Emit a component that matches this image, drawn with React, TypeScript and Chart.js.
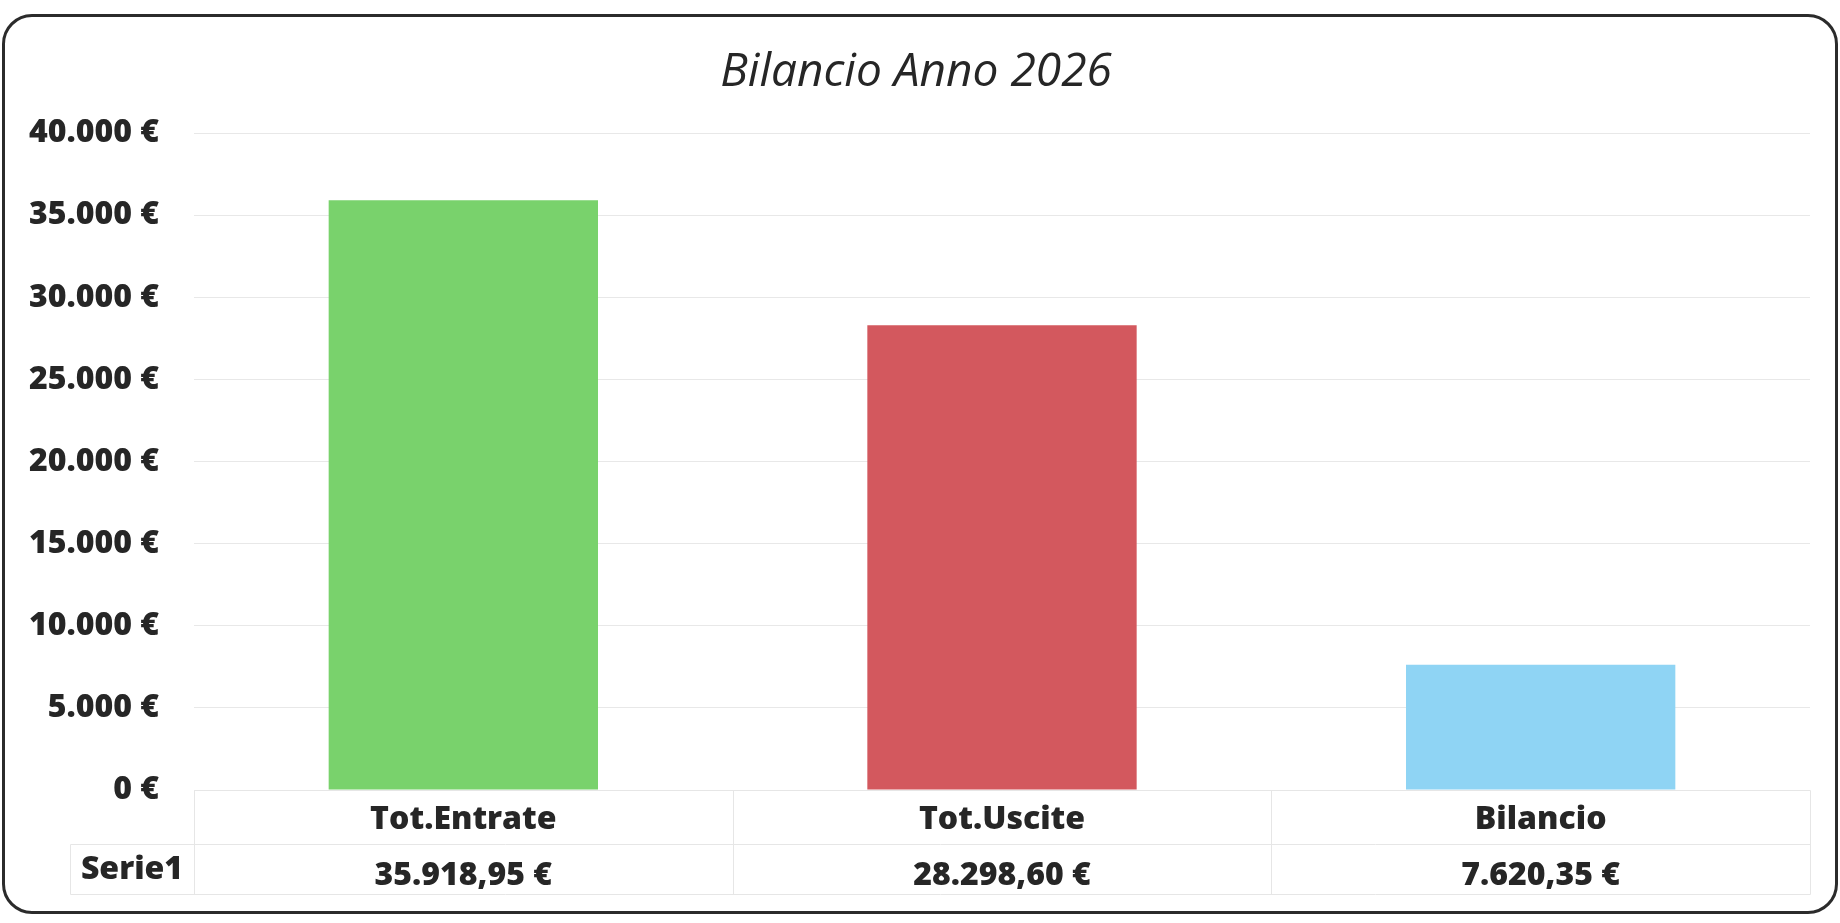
import React, { useEffect, useRef } from "react";
import { Chart, registerables } from "chart.js";

Chart.register(...registerables);

// ---- data ----
const chartTitle = "Bilancio Anno 2026";
const categories = ["Tot.Entrate", "Tot.Uscite", "Bilancio"];
const seriesName = "Serie1";
const values = [35918.95, 28298.6, 7620.35];
const barColors = ["#79D26C", "#D3585E", "#8FD4F4"];
const yMin = 0;
const yMax = 40000;
const yStep = 5000;

// ---- formatting ----
function group(intStr: string): string {
  return intStr.replace(/\B(?=(\d{3})+(?!\d))/g, ".");
}
function fmtEuroInt(v: number): string {
  return group(String(Math.round(v))) + " €";
}
function fmtEuro2(v: number): string {
  const [i, d] = v.toFixed(2).split(".");
  return group(i) + "," + d + " €";
}

const FONT = "'Open Sans', 'DejaVu Sans', sans-serif";
const TEXT = "#262626";
const ROW_H = 54;
const TABLE_LEFT = 70;

const dataTablePlugin = {
  id: "dataTable",
  afterDraw(chart: any) {
    const { ctx, chartArea } = chart;
    const x = chart.scales.x;
    const n = categories.length;
    const half = (x.getPixelForValue(1) - x.getPixelForValue(0)) / 2;
    const left = x.getPixelForValue(0) - half;
    const right = x.getPixelForValue(n - 1) + half;
    const top = chartArea.bottom;
    const mid = top + ROW_H;
    const bot = top + 2 * ROW_H - 4;
    ctx.save();
    ctx.strokeStyle = "#e6e6e6";
    ctx.lineWidth = 1;
    const line = (x1: number, y1: number, x2: number, y2: number) => {
      ctx.beginPath();
      ctx.moveTo(Math.round(x1) + 0.5, Math.round(y1) + 0.5);
      ctx.lineTo(Math.round(x2) + 0.5, Math.round(y2) + 0.5);
      ctx.stroke();
    };
    line(left, top, right, top);
    line(TABLE_LEFT, mid, right, mid);
    line(TABLE_LEFT, bot, right, bot);
    for (let i = 0; i <= n; i++) {
      const xx = left + i * 2 * half;
      line(xx, top, xx, bot);
    }
    line(TABLE_LEFT, mid, TABLE_LEFT, bot);
    ctx.fillStyle = TEXT;
    ctx.font = `800 32px ${FONT}`;
    ctx.textAlign = "center";
    ctx.textBaseline = "middle";
    ctx.fillText(seriesName, (TABLE_LEFT + left) / 2, mid + 26);
    ctx.restore();
  },
};

export default function App() {
  const ref = useRef<HTMLCanvasElement | null>(null);

  useEffect(() => {
    if (!ref.current) return;
    const chart = new Chart(ref.current, {
      type: "bar",
      data: {
        labels: categories,
        datasets: [
          {
            label: seriesName,
            data: values,
            backgroundColor: barColors,
            borderWidth: 0,
            barPercentage: 0.5,
            categoryPercentage: 1.0,
          },
        ],
      },
      options: {
        responsive: false,
        animation: false,
        devicePixelRatio: 1,
        layout: { padding: { left: 22, right: 30, top: 0, bottom: 18 } },
        plugins: {
          legend: { display: false },
          tooltip: { enabled: false },
          title: {
            display: true,
            text: chartTitle,
            color: TEXT,
            font: { family: FONT, size: 46, style: "italic", weight: "normal", lineHeight: 1.2 },
            padding: { top: 45, bottom: 33 },
          },
        },
        scales: {
          x: {
            grid: { display: false, drawTicks: false },
            border: { display: false },
            ticks: {
              color: TEXT,
              padding: 2,
              maxRotation: 0,
              autoSkip: false,
              font: { family: FONT, size: 32, weight: 800, lineHeight: 1.75 },
              callback: (_v: any, i: number) => [categories[i], fmtEuro2(values[i])],
            },
            afterFit: (s: any) => {
              s.height = 115;
            },
          },
          y: {
            min: yMin,
            max: yMax,
            grid: { color: "#e8e8e8", lineWidth: 1, drawTicks: false },
            border: { display: false },
            ticks: {
              stepSize: yStep,
              color: TEXT,
              padding: 35,
              font: { family: FONT, size: 32, weight: 800 },
              callback: (v: any) => fmtEuroInt(Number(v)),
            },
            afterFit: (s: any) => {
              s.width = 172;
            },
          },
        },
      },
      plugins: [dataTablePlugin],
    });
    return () => chart.destroy();
  }, []);

  return (
    <div style={{ position: "absolute", left: 0, top: 0, width: 1840, height: 923, background: "#fff" }}>
      <canvas ref={ref} width={1840} height={923} style={{ position: "absolute", left: 0, top: 0 }} />
      <div
        style={{
          position: "absolute",
          left: 2,
          top: 14,
          width: 1836,
          height: 900,
          boxSizing: "border-box",
          border: "3px solid #2b2b2b",
          borderRadius: 30,
          pointerEvents: "none",
        }}
      />
    </div>
  );
}
